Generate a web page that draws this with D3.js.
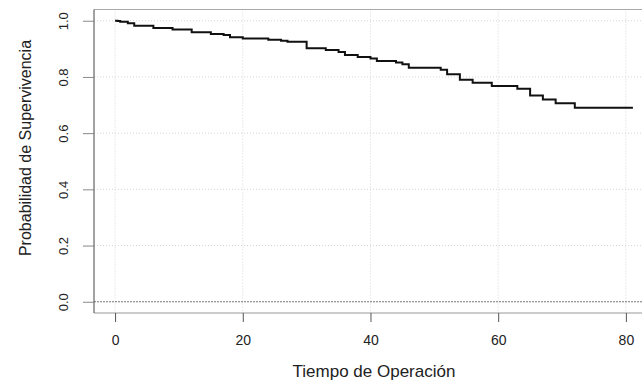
<!DOCTYPE html>
<html>
<head>
<meta charset="utf-8">
<script src="https://cdn.jsdelivr.net/npm/d3@7"></script>
<style>
  body { margin: 0; background: #fff; }
  text { font-family: "Liberation Sans", Arial, sans-serif; fill: #222; }
</style>
</head>
<body>
<div id="km-chart"></div>
<script>
// Kaplan-Meier estimate
const times = [0, 0.4, 0.8, 2, 3, 6, 9, 12, 15, 17, 18, 20, 24, 26, 27, 30, 33, 35, 36, 38,
  40, 41, 44, 45, 46, 51, 52, 54, 56, 59, 63, 65, 67, 69, 72, 81.1];
const survival = [1.0, 0.999, 0.996, 0.991, 0.982, 0.974, 0.969, 0.959, 0.953, 0.949,
  0.941, 0.937, 0.932, 0.929, 0.925, 0.902, 0.896, 0.889, 0.878, 0.871,
  0.866, 0.857, 0.851, 0.845, 0.833, 0.826, 0.81, 0.79, 0.779, 0.768,
  0.758, 0.734, 0.72, 0.706, 0.69, 0.69];
const xTicks = [0, 20, 40, 60, 80];
const yTicks = [0, 0.2, 0.4, 0.6, 0.8, 1.0];
const xLabel = "Tiempo de Operación";
const yLabel = "Probabilidad de Supervivencia";

const width = 642, height = 383;
const box = { left: 94, right: 661, top: 9.5, bottom: 313 };

const svg = d3.select("#km-chart")
  .append("svg")
  .attr("width", width)
  .attr("height", height);

const x = d3.scaleLinear().domain([-3.3, 85.5]).range([box.left, box.right]);
const y = d3.scaleLinear().domain([-0.04, 1.04]).range([box.bottom, box.top]);

// grid
svg.append("g")
  .selectAll("line")
  .data(xTicks)
  .join("line")
  .attr("x1", d => x(d)).attr("x2", d => x(d))
  .attr("y1", box.top).attr("y2", box.bottom)
  .attr("stroke", "#d6d6d6")
  .attr("stroke-dasharray", "1,2");

svg.append("g")
  .selectAll("line")
  .data(yTicks)
  .join("line")
  .attr("x1", box.left).attr("x2", box.right)
  .attr("y1", d => y(d)).attr("y2", d => y(d))
  .attr("stroke", d => (d === 0 ? "#777" : "#d6d6d6"))
  .attr("stroke-dasharray", d => (d === 0 ? "2,1" : "1,2"));

// plot frame
svg.append("line")
  .attr("x1", box.left).attr("x2", box.right)
  .attr("y1", box.top).attr("y2", box.top)
  .attr("stroke", "#aaa");
svg.append("line")
  .attr("x1", box.left).attr("x2", box.right)
  .attr("y1", box.bottom).attr("y2", box.bottom)
  .attr("stroke", "#999");
svg.append("line")
  .attr("x1", box.left).attr("x2", box.left)
  .attr("y1", box.top).attr("y2", box.bottom)
  .attr("stroke", "#444");

// axes
const xAxis = d3.axisBottom(x).tickValues(xTicks).tickSize(9).tickPadding(13);
const gx = svg.append("g")
  .attr("transform", `translate(0, ${box.bottom})`)
  .call(xAxis);
gx.select(".domain").remove();
gx.selectAll(".tick line").attr("stroke", "#555");
gx.selectAll(".tick text")
  .attr("font-size", 14)
  .style("font-family", "Liberation Sans, Arial, sans-serif")
  .attr("fill", "#222");

const yAxis = d3.axisLeft(y).tickValues(yTicks).tickSize(11).tickFormat(d3.format(".1f"));
const gy = svg.append("g")
  .attr("transform", `translate(${box.left}, 0)`)
  .call(yAxis);
gy.select(".domain").remove();
gy.selectAll(".tick line").attr("stroke", "#888");
gy.selectAll(".tick text")
  .attr("font-size", 13)
  .style("font-family", "Liberation Sans, Arial, sans-serif")
  .attr("fill", "#222")
  .attr("transform", "rotate(-90)")
  .attr("text-anchor", "middle")
  .attr("x", 0)
  .attr("y", -31)
  .attr("dy", "0.36em");

// survival curve
const points = times.map((t, i) => [t, survival[i]]);
const line = d3.line()
  .x(d => x(d[0]))
  .y(d => y(d[1]))
  .curve(d3.curveStepAfter);

svg.append("path")
  .datum(points)
  .attr("d", line)
  .attr("fill", "none")
  .attr("stroke", "#111")
  .attr("stroke-width", 2);

// labels
svg.append("text")
  .attr("x", 374)
  .attr("y", 377)
  .attr("text-anchor", "middle")
  .attr("font-size", 17)
  .text(xLabel);

svg.append("text")
  .attr("transform", "translate(25, 148) rotate(-90)")
  .attr("text-anchor", "middle")
  .attr("dy", "0.36em")
  .attr("font-size", 16)
  .text(yLabel);
</script>
</body>
</html>
